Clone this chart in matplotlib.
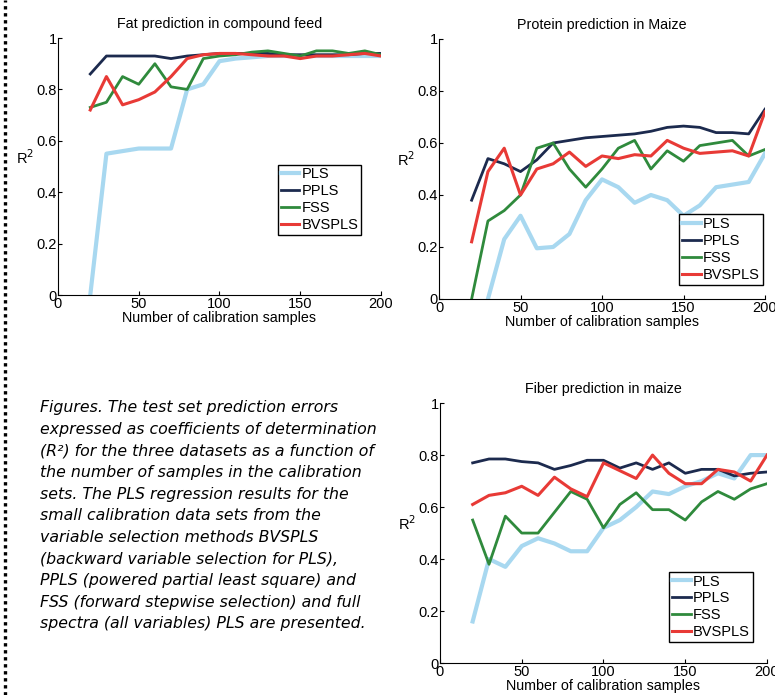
import matplotlib
matplotlib.use("Agg")
import matplotlib.pyplot as plt
from matplotlib.lines import Line2D

plt.rcParams["font.family"] = ["Liberation Sans", "DejaVu Sans"]

# number of calibration samples
n_cal = [20, 30, 40, 50, 60, 70, 80, 90, 100, 110, 120, 130, 140, 150, 160, 170, 180, 190, 200]

# fat prediction in compound feed
fat_pls = [0.0, 0.55, 0.56, 0.57, 0.57, 0.57, 0.80, 0.82, 0.91, 0.92, 0.925, 0.93, 0.93, 0.93, 0.93, 0.93, 0.93, 0.93, 0.93]
fat_ppls = [0.86, 0.93, 0.93, 0.93, 0.93, 0.92, 0.93, 0.935, 0.94, 0.94, 0.94, 0.94, 0.935, 0.935, 0.935, 0.935, 0.935, 0.94, 0.94]
fat_fss = [0.73, 0.75, 0.85, 0.82, 0.90, 0.81, 0.80, 0.92, 0.93, 0.935, 0.945, 0.95, 0.94, 0.93, 0.95, 0.95, 0.94, 0.95, 0.935]
fat_bvspls = [0.72, 0.85, 0.74, 0.76, 0.79, 0.85, 0.92, 0.935, 0.94, 0.94, 0.935, 0.93, 0.93, 0.92, 0.93, 0.93, 0.935, 0.94, 0.93]

# protein prediction in maize
pro_pls = [-0.3, 0.0, 0.23, 0.32, 0.195, 0.20, 0.25, 0.38, 0.46, 0.43, 0.37, 0.40, 0.38, 0.32, 0.36, 0.43, 0.44, 0.45, 0.56]
pro_ppls = [0.38, 0.54, 0.52, 0.49, 0.535, 0.60, 0.61, 0.62, 0.625, 0.63, 0.635, 0.645, 0.66, 0.665, 0.66, 0.64, 0.64, 0.635, 0.73]
pro_fss = [0.0, 0.30, 0.34, 0.40, 0.58, 0.60, 0.50, 0.43, 0.50, 0.58, 0.61, 0.50, 0.57, 0.53, 0.59, 0.60, 0.61, 0.55, 0.575]
pro_bvspls = [0.22, 0.49, 0.58, 0.40, 0.50, 0.52, 0.565, 0.51, 0.55, 0.54, 0.555, 0.55, 0.61, 0.58, 0.56, 0.565, 0.57, 0.55, 0.72]

# fiber prediction in maize
fib_pls = [0.16, 0.40, 0.37, 0.45, 0.48, 0.46, 0.43, 0.43, 0.52, 0.55, 0.60, 0.66, 0.65, 0.68, 0.70, 0.73, 0.71, 0.80, 0.80]
fib_ppls = [0.77, 0.785, 0.785, 0.775, 0.77, 0.745, 0.76, 0.78, 0.78, 0.75, 0.77, 0.745, 0.77, 0.73, 0.745, 0.745, 0.72, 0.73, 0.735]
fib_fss = [0.55, 0.38, 0.565, 0.50, 0.50, 0.58, 0.66, 0.63, 0.52, 0.61, 0.655, 0.59, 0.59, 0.55, 0.62, 0.66, 0.63, 0.67, 0.69]
fib_bvspls = [0.61, 0.645, 0.655, 0.68, 0.645, 0.715, 0.67, 0.64, 0.77, 0.74, 0.71, 0.80, 0.73, 0.69, 0.69, 0.745, 0.735, 0.70, 0.80]

methods = ["PLS", "PPLS", "FSS", "BVSPLS"]
colors = ["#a8d8f0", "#1c2a4e", "#2f8a3c", "#e83a36"]
widths = [3.0, 2.0, 2.0, 2.2]

caption = ("Figures. The test set prediction errors\n"
           "expressed as coefficients of determination\n"
           "(R\u00b2) for the three datasets as a function of\n"
           "the number of samples in the calibration\n"
           "sets. The PLS regression results for the\n"
           "small calibration data sets from the\n"
           "variable selection methods BVSPLS\n"
           "(backward variable selection for PLS),\n"
           "PPLS (powered partial least square) and\n"
           "FSS (forward stepwise selection) and full\n"
           "spectra (all variables) PLS are presented.")


def panel(ax, title, series, leg_box):
    for s, name, c, w in zip(series, methods, colors, widths):
        ax.plot(n_cal, s, color=c, lw=w, label=name)
    ax.set_xlim(0, 200); ax.set_ylim(0, 1)
    ax.set_xticks([0, 50, 100, 150, 200])
    ax.set_yticks([0, 0.2, 0.4, 0.6, 0.8, 1])
    ax.set_yticklabels(["0", "0.2", "0.4", "0.6", "0.8", "1"])
    for sp in ("top", "right"):
        ax.spines[sp].set_visible(False)
    ax.tick_params(direction="in", length=3, labelsize=10.5)
    ax.tick_params(axis="y", pad=1)
    ax.tick_params(axis="x", pad=1.5)
    ax.set_title(title, fontsize=10.3, pad=7)
    ax.set_xlabel("Number of calibration samples", fontsize=10.3, labelpad=0)
    ax.set_ylabel("R$^2$", fontsize=10.5, rotation=0, labelpad=8)
    leg = ax.legend(loc="lower left", bbox_to_anchor=leg_box, fontsize=10.5,
                    handlelength=1.3, handletextpad=0.15, borderpad=0.2,
                    labelspacing=0.2, borderaxespad=0, fancybox=False,
                    framealpha=1)
    leg.get_frame().set_edgecolor("black")
    leg.get_frame().set_linewidth(1.0)


fig = plt.figure(figsize=(7.75, 6.95), dpi=100)
ax1 = fig.add_axes([0.0748, 0.5755, 0.4168, 0.3698])
ax2 = fig.add_axes([0.5665, 0.5698, 0.4206, 0.3741])
ax3 = fig.add_axes([0.5677, 0.0460, 0.4220, 0.3740])

panel(ax1, "Fat prediction in compound feed",
      [fat_pls, fat_ppls, fat_fss, fat_bvspls], (0.68, 0.233))
panel(ax2, "Protein prediction in Maize",
      [pro_pls, pro_ppls, pro_fss, pro_bvspls], (0.736, 0.054))
panel(ax3, "Fiber prediction in maize",
      [fib_pls, fib_ppls, fib_fss, fib_bvspls], (0.70, 0.08))

fig.text(0.052, 0.424, caption, fontsize=11.3, style="italic", va="top",
         ha="left", family="DejaVu Sans", linespacing=1.55)

# dotted border on the left edge
fig.add_artist(Line2D([0.007, 0.007], [0.0, 1.0], transform=fig.transFigure,
                      color="black", lw=2.4, ls=(0, (1, 1.1))))

fig.savefig("out.png", dpi=100)
